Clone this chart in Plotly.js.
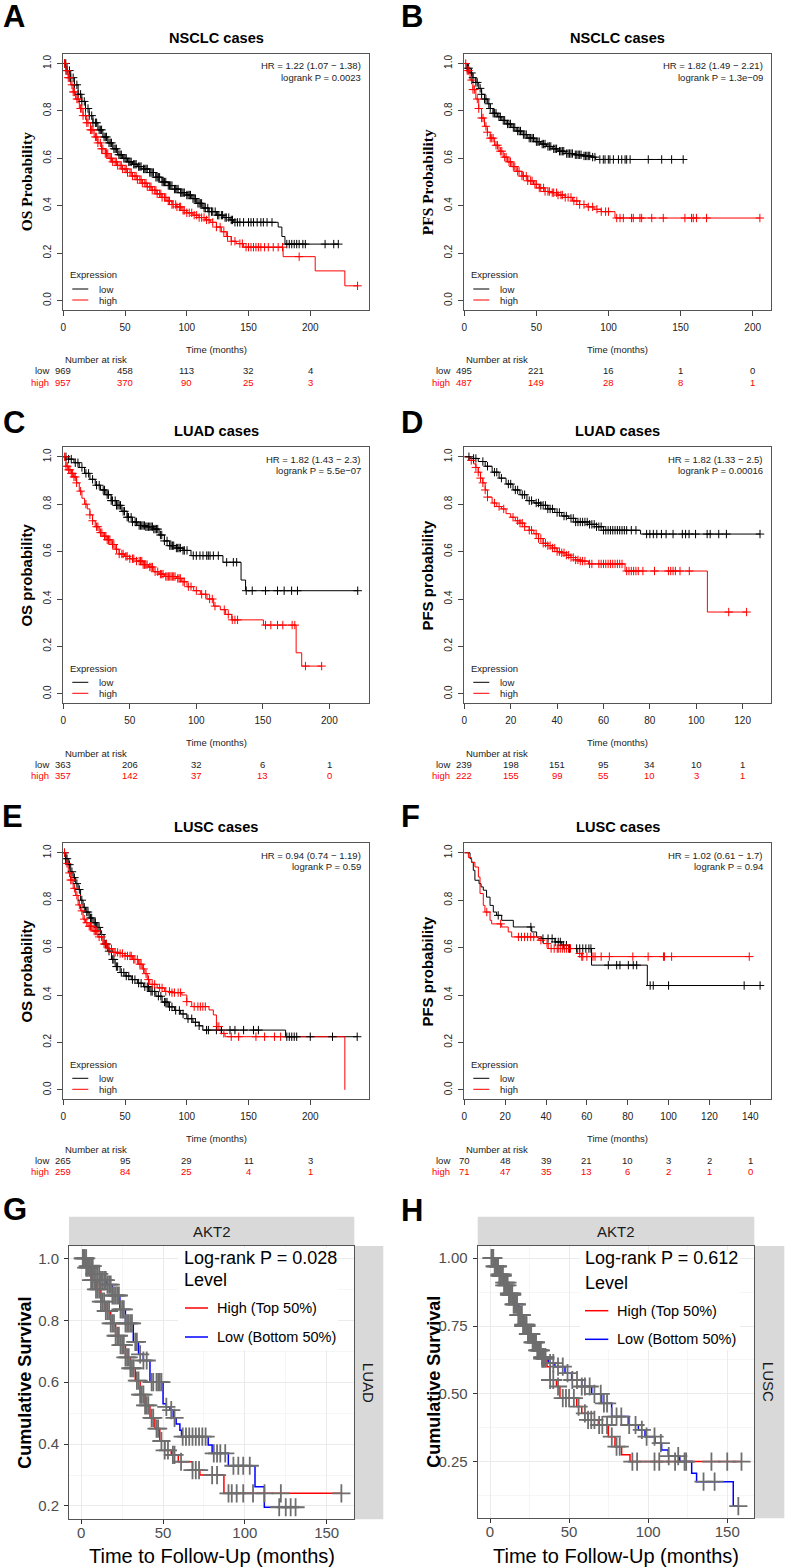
<!DOCTYPE html>
<html>
<head>
<meta charset="utf-8">
<script src="https://cdn.plot.ly/plotly-3.0.1.min.js"></script>
<style>
  html, body { margin: 0; padding: 0; background: #fff; }
  #chart { width: 787px; height: 1568px; }
</style>
</head>
<body>
<div id="chart"></div>
<script>
// ---- data (months / survival probability) ----

// tick labels
const months50 = [0, 50, 100, 150, 200];
const months20D = [0, 20, 40, 60, 80, 100, 120];
const months20F = [0, 20, 40, 60, 80, 100, 120, 140];
const probTicks = [0, 0.2, 0.4, 0.6, 0.8, 1.0];

// A: NSCLC OS
const aLowT = [0, 3, 6, 9, 12, 15, 18, 21, 24, 28, 32, 36, 40, 44, 48, 52, 56, 60, 65, 70, 75, 80, 85, 90, 95, 100, 104, 108, 113, 118, 124, 130, 135, 138, 174, 177, 179.5];
const aLowS = [1.0, 0.97, 0.94, 0.91, 0.87, 0.84, 0.81, 0.78, 0.75, 0.72, 0.69, 0.665, 0.64, 0.615, 0.6, 0.585, 0.575, 0.565, 0.555, 0.54, 0.52, 0.5, 0.485, 0.47, 0.455, 0.445, 0.43, 0.41, 0.39, 0.375, 0.36, 0.35, 0.34, 0.33, 0.31, 0.27, 0.238];
const aLowC = [1, 2, 3, 5, 6, 8, 9, 11, 12, 14, 15, 17, 18, 20, 21, 23, 24, 26, 27, 29, 30, 31, 33, 34, 35, 37, 38, 39, 41, 42, 43, 45, 46, 47, 49, 50, 51, 53, 54, 55, 57, 58, 59, 61, 62, 63, 65, 66, 67, 68, 70, 71, 72, 73, 75, 76, 77, 78, 80, 81, 82, 83, 85, 86, 87, 88, 90, 91, 92, 93, 95, 96, 97, 98, 100, 101, 102, 103, 105, 106, 107, 109, 110, 111, 112, 114, 115, 117, 118, 120, 121, 123, 125, 126, 128, 129, 131, 132, 134, 136, 137, 139, 141, 143, 146, 150, 152, 154, 157, 160, 162, 165, 169, 181, 183, 185, 187, 189, 191, 194, 196, 212, 219, 222.7];
const aHighT = [0, 2, 4, 6, 8, 10, 13, 16, 19, 22, 25, 28, 31, 34, 37, 40, 44, 48, 52, 56, 60, 64, 68, 72, 76, 80, 84, 88, 92, 96, 100, 105, 110, 115, 119, 124, 128, 132, 136, 140, 146, 178, 204, 228];
const aHighS = [1.0, 0.97, 0.94, 0.91, 0.88, 0.85, 0.81, 0.78, 0.75, 0.72, 0.69, 0.665, 0.64, 0.62, 0.6, 0.585, 0.57, 0.555, 0.54, 0.525, 0.51, 0.495, 0.48, 0.465, 0.45, 0.435, 0.42, 0.405, 0.395, 0.38, 0.37, 0.36, 0.35, 0.34, 0.33, 0.31, 0.29, 0.27, 0.25, 0.24, 0.225, 0.185, 0.125, 0.062];
const aHighC = [1, 2, 3, 4, 5, 7, 8, 9, 11, 12, 14, 15, 16, 18, 19, 20, 22, 23, 24, 26, 27, 28, 30, 31, 32, 34, 35, 36, 38, 39, 40, 42, 43, 44, 46, 47, 48, 50, 51, 52, 54, 55, 56, 58, 59, 60, 62, 63, 64, 66, 67, 68, 70, 71, 72, 74, 75, 76, 78, 79, 80, 82, 83, 85, 86, 88, 89, 91, 92, 94, 95, 97, 98, 100, 102, 104, 106, 108, 110, 112, 114, 116, 118, 121, 124, 127, 130, 133, 136, 139, 143, 145, 148, 150, 152, 154, 156, 158, 160, 163, 166, 170, 174, 177.5, 191, 238.3];
const riskTimesA = [0, 50, 100, 150, 200];
const riskLowA = [969, 458, 113, 32, 4];
const riskHighA = [957, 370, 90, 25, 3];

// B: NSCLC PFS
const bLowT = [0, 2, 4, 6, 8, 10, 12, 14, 16, 18, 20, 23, 26, 29, 33, 36, 40, 44, 49, 53, 57, 61, 65, 70, 76, 82, 88, 91];
const bLowS = [1.0, 0.98, 0.96, 0.94, 0.92, 0.895, 0.87, 0.85, 0.83, 0.81, 0.79, 0.775, 0.76, 0.745, 0.73, 0.715, 0.7, 0.685, 0.67, 0.66, 0.65, 0.64, 0.63, 0.62, 0.615, 0.61, 0.605, 0.595];
const bLowC = [2, 3, 5, 6, 8, 9, 11, 12, 14, 15, 17, 18, 20, 21, 22, 24, 25, 27, 28, 30, 31, 32, 34, 35, 37, 38, 39, 41, 42, 43, 45, 46, 47, 48, 50, 51, 52, 54, 55, 56, 58, 59, 60, 62, 63, 64, 66, 67, 68, 69, 71, 72, 73, 74, 75, 77, 78, 79, 80, 81, 83, 84, 85, 86, 87, 89, 90.6, 94, 96.4, 97.6, 99.9, 101, 103.4, 106.9, 109.2, 111.5, 112.6, 115, 127.6, 136.9, 143.8, 151.8];
const bHighT = [0, 2, 4, 6, 8, 10, 12, 14, 16, 18, 21, 24, 27, 30, 33, 36, 40, 44, 48, 52, 56, 60, 65, 70, 75, 80, 85, 90, 95, 104.5];
const bHighS = [1.0, 0.97, 0.93, 0.89, 0.85, 0.81, 0.77, 0.735, 0.71, 0.685, 0.655, 0.63, 0.605, 0.585, 0.565, 0.545, 0.525, 0.505, 0.49, 0.475, 0.46, 0.455, 0.445, 0.435, 0.42, 0.405, 0.395, 0.385, 0.375, 0.348];
const bHighC = [1, 2, 3, 5, 6, 7, 9, 10, 12, 13, 15, 16, 18, 19, 20, 22, 23, 25, 26, 28, 29, 31, 32, 34, 35, 37, 38, 40, 41, 43, 44, 46, 47, 49, 50, 52, 53, 55, 56, 58, 59, 61, 62, 64, 65, 67, 68, 70, 72, 74, 76, 78, 80, 83, 86, 89, 92, 95, 98, 100, 105.7, 108, 110.3, 116, 117.2, 121.8, 123, 130, 138, 153, 157.6, 158.8, 161, 168, 205];
const riskTimesB = [0, 50, 100, 150, 200];
const riskLowB = [495, 221, 16, 1, 0];
const riskHighB = [487, 149, 28, 8, 1];

// C: LUAD OS
const cLowT = [0, 4, 8, 12, 16, 20, 24, 28, 32, 36, 40, 44, 48, 52, 56, 62, 68, 72, 76, 80, 85, 90, 96, 120, 133.6, 137];
const cLowS = [1.0, 0.99, 0.975, 0.955, 0.93, 0.905, 0.88, 0.86, 0.84, 0.815, 0.795, 0.77, 0.745, 0.725, 0.71, 0.705, 0.695, 0.67, 0.645, 0.625, 0.615, 0.605, 0.583, 0.555, 0.48, 0.435];
const cLowC = [2, 4, 6, 9, 11, 14, 17, 19, 22, 25, 27, 30, 31, 33, 34, 36, 37, 39, 40, 41, 42, 43, 45, 46, 48, 49, 51, 52, 54, 55, 57, 58, 59, 60, 61, 62, 63, 64, 65, 66, 67, 68, 69, 70, 71, 73, 74, 76, 78, 80, 81, 82, 83, 85, 86, 87, 88, 90, 91, 93, 97.7, 100, 102.7, 105, 107.8, 109, 110.3, 112.8, 116.5, 122.8, 127.8, 130.3, 137.5, 142, 152, 161, 166, 171.6, 176, 221.3];
const cHighT = [0, 2, 4, 6, 8, 10, 12, 14, 16, 18, 20, 22, 24, 27, 30, 33, 36, 39, 42, 46, 50, 55, 60, 64, 68, 72, 76, 85, 89, 93, 98, 103, 108, 113, 118, 122, 126.6, 150.4, 175, 179.2];
const cHighS = [1.0, 0.96, 0.945, 0.93, 0.915, 0.89, 0.855, 0.825, 0.8, 0.78, 0.755, 0.73, 0.705, 0.68, 0.665, 0.65, 0.63, 0.61, 0.59, 0.58, 0.57, 0.56, 0.545, 0.535, 0.515, 0.505, 0.495, 0.487, 0.473, 0.452, 0.435, 0.42, 0.4, 0.37, 0.355, 0.335, 0.312, 0.29, 0.173, 0.117];
const cHighC = [1, 2, 3, 4, 5, 6, 7, 8, 9, 10, 13, 17, 20, 22, 25, 26, 28, 29, 31, 32, 33, 34, 35, 37, 38, 40, 42, 44, 45, 47, 48, 50, 52, 53, 55, 57, 58, 59, 60, 61, 62, 63, 65, 66, 67, 69, 71, 73, 74, 75, 77, 78, 79, 80, 81, 82, 83, 84, 86, 87, 88, 90, 91, 94, 96, 100, 104, 107, 110, 112, 114, 121, 124, 127, 129, 131, 152, 156, 161, 165, 172, 174, 182, 194.2];
const riskTimesC = [0, 50, 100, 150, 200];
const riskLowC = [363, 206, 32, 6, 1];
const riskHighC = [357, 142, 37, 13, 0];

// D: LUAD PFS
const dLowT = [0, 3, 6, 9, 12, 15, 18, 21, 24, 27, 30, 33, 36, 39, 42, 45, 48, 54, 57, 60, 76];
const dLowS = [1.0, 0.993, 0.98, 0.96, 0.935, 0.91, 0.885, 0.86, 0.84, 0.815, 0.805, 0.795, 0.78, 0.765, 0.75, 0.74, 0.725, 0.715, 0.705, 0.69, 0.674];
const dLowC = [2, 4, 5, 8, 10, 13, 14, 16, 19, 20, 22, 23, 25, 26, 28, 29, 31, 32, 33, 34, 35, 36, 37, 38, 40, 41, 43, 44, 46, 47, 48, 49, 50, 51, 52, 53, 54, 55, 56, 57, 58, 59, 60, 61, 62, 63, 64, 65, 66, 67, 68, 69, 70, 72, 74, 78.6, 80, 81.5, 83, 85, 87, 90, 94, 95.4, 96.9, 99.7, 104.7, 106, 109.7, 113, 127.5];
const dHighT = [0, 2, 4, 5, 6, 7, 8, 9, 10, 12, 14, 16, 18, 20, 22, 24, 26, 28, 30, 32, 34, 36, 38, 40, 42, 44, 46, 48, 50, 53.5, 69.3, 104.8];
const dHighS = [1.0, 0.985, 0.97, 0.955, 0.935, 0.91, 0.89, 0.86, 0.83, 0.805, 0.79, 0.78, 0.76, 0.745, 0.73, 0.72, 0.705, 0.69, 0.675, 0.655, 0.635, 0.625, 0.615, 0.6, 0.595, 0.585, 0.575, 0.565, 0.56, 0.548, 0.518, 0.345];
const dHighC = [3, 5, 6, 7, 8, 9, 10, 13, 15, 17, 21, 23, 24, 25, 26, 28, 29, 31, 32, 33, 34, 35, 36, 37, 38, 39, 40, 41, 42, 43, 44, 45, 46, 47, 48, 49, 50, 51, 52, 54, 55, 58, 59, 60, 61, 62, 63, 64, 65, 66, 67, 68, 70, 71, 72, 73, 74, 75, 77, 82, 88, 89, 90, 91, 93, 97, 114, 121.7];
const riskTimesD = [0, 20, 40, 60, 80, 100, 120];
const riskLowD = [239, 198, 151, 95, 34, 10, 1];
const riskHighD = [222, 155, 99, 55, 10, 3, 1];

// E: LUSC OS
const eLowT = [0, 2, 4, 6, 8, 10, 12, 14, 16, 18, 21, 24, 27, 30, 33, 36, 39, 42, 46, 50, 55, 60, 65, 70, 75, 80, 85, 90, 95, 100, 105, 110, 113, 180];
const eLowS = [1.0, 0.975, 0.95, 0.92, 0.895, 0.87, 0.845, 0.8, 0.77, 0.75, 0.725, 0.705, 0.685, 0.655, 0.615, 0.585, 0.55, 0.52, 0.495, 0.48, 0.465, 0.45, 0.435, 0.415, 0.395, 0.37, 0.35, 0.335, 0.32, 0.3, 0.285, 0.27, 0.252, 0.224];
const eLowC = [1, 2, 3, 5, 7, 9, 11, 13, 15, 17, 19, 20, 22, 23, 25, 26, 28, 29, 31, 34, 35, 37, 40, 41, 43, 44, 47, 49, 51, 53, 56, 58, 61, 63, 66, 68, 69, 71, 72, 74, 77, 79, 82, 83, 84, 86, 88, 91, 94, 97, 101, 104, 107, 110, 116, 117.5, 124, 128, 135, 139, 146, 154, 158, 181, 183, 185, 187, 189, 200, 218, 238];
const eHighT = [0, 2, 4, 6, 8, 10, 12, 14, 16, 18, 20, 24, 28, 32, 36, 40, 45, 50, 56, 61, 64, 66, 68, 70, 76, 82, 88, 96, 100, 104, 118, 121.5, 124, 128, 131, 228];
const eHighS = [1.0, 0.955, 0.915, 0.885, 0.85, 0.82, 0.78, 0.755, 0.72, 0.705, 0.69, 0.67, 0.645, 0.615, 0.595, 0.58, 0.575, 0.565, 0.55, 0.53, 0.51, 0.49, 0.465, 0.445, 0.43, 0.415, 0.41, 0.4, 0.372, 0.351, 0.337, 0.316, 0.267, 0.238, 0.224, 0.0];
const eHighC = [1, 3, 5, 6, 7, 9, 11, 13, 15, 17, 19, 21, 22, 23, 25, 26, 27, 29, 31, 33, 35, 37, 39, 41, 42, 44, 46, 48, 50, 52, 54, 55, 57, 58, 60, 62, 63, 65, 67, 69, 72, 74, 78, 80, 83, 86, 88, 90, 93, 95, 100, 106, 109, 111, 113, 115, 124.5, 126, 130, 136, 142, 156, 163, 171, 176];
const riskTimesE = [0, 50, 100, 150, 200];
const riskLowE = [265, 95, 29, 11, 3];
const riskHighE = [259, 84, 25, 4, 1];

// F: LUSC PFS
const fLowT = [0, 2.8, 3.6, 4.4, 5.2, 7.2, 8.2, 9.3, 10.9, 12.6, 14.2, 15.8, 18.3, 24, 33, 35.4, 37.9, 44.4, 47.7, 51, 62.3, 89.6];
const fLowS = [1.0, 0.975, 0.96, 0.926, 0.884, 0.87, 0.856, 0.842, 0.813, 0.778, 0.75, 0.736, 0.715, 0.687, 0.666, 0.645, 0.638, 0.624, 0.61, 0.596, 0.526, 0.44];
const fLowC = [16.6, 32.6, 38.5, 41, 43, 44.5, 46, 47, 48.5, 50, 51.5, 55, 56.5, 58, 59.5, 61, 62, 70.5, 74.6, 76.2, 80.3, 82.7, 84.4, 91, 92.5, 100, 137, 144.8];
const fHighT = [0, 2, 3.5, 5.2, 6.9, 7.7, 9.3, 10.1, 12.6, 13.4, 18.3, 21.5, 23.2, 36.2, 38.7, 41.1, 55.5, 57.5];
const fHighS = [1.0, 0.98, 0.96, 0.94, 0.898, 0.828, 0.778, 0.75, 0.715, 0.7, 0.687, 0.666, 0.645, 0.631, 0.617, 0.596, 0.575, 0.562];
const fHighC = [11, 17.8, 26.5, 28, 29.5, 31, 32.5, 34, 37.5, 40.5, 42.5, 44, 45.5, 46, 47, 48, 49, 50, 51, 52, 56.5, 57.5, 58, 60, 63, 64, 67, 71, 82.5, 90, 97.5, 98, 101.5, 139.5];
const riskTimesF = [0, 20, 40, 60, 80, 100, 120, 140];
const riskLowF = [70, 48, 39, 21, 10, 3, 2, 1];
const riskHighF = [71, 47, 35, 13, 6, 2, 1, 0];

// G: AKT2 LUAD
const gHighT = [0, 3, 6, 9, 12, 15, 18, 21, 24, 27, 30, 33, 36, 39, 42, 45, 48, 51, 55, 59.3, 68, 72.5, 87.2];
const gHighS = [1.0, 0.97, 0.93, 0.9, 0.86, 0.83, 0.79, 0.75, 0.72, 0.68, 0.645, 0.605, 0.56, 0.525, 0.485, 0.45, 0.41, 0.38, 0.365, 0.343, 0.316, 0.3, 0.241];
const gHighC = [1, 2, 3, 4, 5, 6, 7, 8, 9, 10, 11, 12, 13, 14, 15, 16, 17, 18, 19, 20, 21, 22, 23, 24, 25, 26, 27, 28, 29, 30, 31, 32, 34, 35, 36, 37, 38, 39, 40, 41, 43, 44, 46, 47, 49, 51, 53, 56, 57, 61, 68, 70, 72, 80, 83, 90, 92, 95, 99, 105, 112, 122, 159];
const gLowT = [0, 3.3, 8, 12, 15.5, 19, 23.6, 27, 31.8, 35, 37.9, 42, 50, 52, 54.2, 56.2, 58, 60.3, 61.3, 77.6, 80, 89.9, 106.2, 111.9];
const gLowS = [1.0, 0.975, 0.95, 0.93, 0.915, 0.88, 0.835, 0.79, 0.73, 0.69, 0.67, 0.6, 0.53, 0.52, 0.51, 0.485, 0.465, 0.445, 0.424, 0.397, 0.37, 0.33, 0.262, 0.196];
const gLowC = [1, 2, 3, 4, 5, 6, 7, 8, 9, 10, 11, 12, 13, 14, 15, 16, 17, 18, 19, 20, 21, 22, 23, 24, 25, 26, 27, 28, 29, 30, 31, 33, 34, 36, 38, 40, 43, 44, 46, 47, 48, 49, 52, 55, 57, 62, 64, 66, 68, 70, 72, 74, 76, 81, 83, 85, 88, 93, 96, 99, 103, 121, 125, 128, 131];

// H: AKT2 LUSC
const hHighT = [0, 3, 6, 9, 12, 15, 18, 21, 24, 27, 30, 33, 36, 37.9, 42, 44.2, 54.8, 58, 62, 68.5, 74.8, 79, 83.2, 88.5];
const hHighS = [1.0, 0.97, 0.94, 0.91, 0.87, 0.83, 0.79, 0.75, 0.72, 0.69, 0.66, 0.63, 0.6, 0.551, 0.527, 0.484, 0.453, 0.428, 0.404, 0.385, 0.342, 0.305, 0.275, 0.25];
const hHighC = [1, 2, 3, 4, 5, 6, 7, 8, 9, 10, 11, 12, 13, 14, 15, 16, 17, 18, 19, 20, 21, 22, 23, 24, 25, 26, 27, 28, 29, 30, 31, 32, 33, 34, 35, 38, 40, 43, 46, 48, 50, 53, 56, 60, 62, 64, 66, 69, 71, 74, 77, 80, 82, 90, 93, 104, 107, 117, 124, 140, 150, 159];
const hLowT = [0, 3, 6, 9, 12, 15, 18, 21, 24, 27, 30, 33, 36.9, 41, 47.4, 51.6, 58, 64.3, 70.6, 76.9, 87.4, 93.8, 98, 104.3, 108.5, 112.7, 120, 127.5, 130.6, 153.8];
const hLowS = [1.0, 0.97, 0.935, 0.9, 0.865, 0.83, 0.79, 0.755, 0.72, 0.69, 0.66, 0.635, 0.613, 0.6, 0.576, 0.551, 0.527, 0.5, 0.465, 0.416, 0.385, 0.367, 0.342, 0.318, 0.293, 0.27, 0.25, 0.207, 0.176, 0.086];
const hLowC = [1, 2, 3, 4, 5, 6, 7, 8, 9, 10, 11, 12, 13, 14, 15, 16, 17, 18, 19, 20, 21, 22, 23, 24, 25, 26, 27, 28, 29, 30, 31, 32, 33, 34, 35, 38, 40, 43, 46, 49, 52, 55, 58, 60, 63, 66, 70, 72, 74, 77, 80, 83, 88, 92, 96, 99, 104, 108, 113, 119, 123, 135, 142, 157];

// ---- layout helpers ----
const W = 787, H = 1568;
const X = px => px / W;
const Y = py => 1 - py / H;
const SANS = 'Liberation Sans, Arial, Helvetica, sans-serif';
const SERIF = 'Liberation Serif, Times New Roman, serif';

const traces = [];
const shapes = [];
const annotations = [];
const layout = {
    width: W, height: H,
    margin: { l: 0, r: 0, t: 0, b: 0 },
    paper_bgcolor: '#fff', plot_bgcolor: '#fff',
    showlegend: false,
    shapes: shapes,
    annotations: annotations
};

function sfx(n) { return n === 1 ? '' : String(n); }

// survival value of a step curve at time t
function stepAt(ts, ss, t) {
    let v = ss[0];
    for (let i = 0; i < ts.length; i++) if (ts[i] <= t) v = ss[i];
    return v;
}

function addCurve(n, ts, ss, cs, color, width) {
    const end = Math.max(ts[ts.length - 1], ...cs);
    const x = ts.slice(), y = ss.slice();
    if (end > x[x.length - 1]) { x.push(end); y.push(ss[ss.length - 1]); }
    traces.push({
        x, y, type: 'scatter', mode: 'lines',
        line: { shape: 'hv', color: color, width: width },
        xaxis: 'x' + sfx(n), yaxis: 'y' + sfx(n), hoverinfo: 'skip'
    });
}

function addCensor(n, ts, ss, cs, color, size, width) {
    traces.push({
        x: cs, y: cs.map(t => stepAt(ts, ss, t)),
        type: 'scatter', mode: 'markers',
        marker: { symbol: 'cross-thin', size: size, color: color, line: { color: color, width: width } },
        xaxis: 'x' + sfx(n), yaxis: 'y' + sfx(n), hoverinfo: 'skip'
    });
}

function note(text, px, py, opts) {
    annotations.push(Object.assign({
        text: text, x: X(px), y: Y(py), xref: 'paper', yref: 'paper',
        showarrow: false, xanchor: 'center', yanchor: 'middle',
        font: { family: SANS, size: 10, color: '#222' }
    }, opts || {}));
}

function panelLetter(letter, px, py) {
    note(letter, px, py, { xanchor: 'left', font: { family: SANS, size: 31, color: '#000', weight: 'bold' } });
}

// ---- R style panels (A-F) ----
function rPanel(p) {
    const n = p.n, s = sfx(n);
    const [l, t, r, b] = p.box;
    const cx = (l + r) / 2;
    layout['xaxis' + s] = {
        domain: [X(l), X(r)], range: p.xr, anchor: 'y' + s,
        tickmode: 'array', tickvals: p.xt,
        ticks: 'outside', ticklen: 5, tickcolor: '#444',
        showline: true, mirror: true, linecolor: '#555', linewidth: 1,
        showgrid: false, zeroline: false, automargin: false, fixedrange: true,
        ticklabelstandoff: 3,
        tickfont: { family: SANS, size: 10, color: '#222' }
    };
    layout['yaxis' + s] = {
        domain: [Y(b), Y(t)], range: [-0.04, 1.04], anchor: 'x' + s,
        tickmode: 'array', tickvals: probTicks, tickformat: '.1f', tickangle: -90,
        ticks: 'outside', ticklen: 5, tickcolor: '#444',
        showline: true, mirror: true, linecolor: '#555', linewidth: 1,
        showgrid: false, zeroline: false, automargin: false, fixedrange: true,
        ticklabelstandoff: 2,
        tickfont: { family: SANS, size: 10, color: '#222' }
    };

    addCurve(n, p.lowT, p.lowS, p.lowC, '#000', 1);
    addCurve(n, p.highT, p.highS, p.highC, '#ff0000', 1);
    addCensor(n, p.lowT, p.lowS, p.lowC, '#000', 6, 1);
    addCensor(n, p.highT, p.highS, p.highC, '#ff0000', 6, 1);

    panelLetter(p.letter, p.letterXY[0], p.letterXY[1]);
    note(p.title, cx, t - 16, { font: { family: SANS, size: 14.6, color: '#000', weight: 'bold' } });
    note(p.hr, r - 6, t + 12, { xanchor: 'right', font: { family: SANS, size: 9.5, color: '#222' } });
    note(p.pval, r - 6, t + 23, { xanchor: 'right', font: { family: SANS, size: 9.5, color: '#222' } });
    note(p.ylab, l - 37, (t + b) / 2, {
        textangle: -90,
        font: p.serif ? { family: SERIF, size: 15.5, color: '#000', weight: 'bold' }
                      : { family: SANS, size: 15, color: '#000', weight: 'bold' }
    });
    note('Time (months)', cx, b + 39, { font: { family: SANS, size: 9.5, color: '#222' } });

    // legend
    note('Expression', l + 5, b - 35, { xanchor: 'left', font: { family: SANS, size: 9.5, color: '#222' } });
    note('low', l + 34, b - 21, { xanchor: 'left', font: { family: SANS, size: 9.5, color: '#222' } });
    note('high', l + 34, b - 10, { xanchor: 'left', font: { family: SANS, size: 9.5, color: '#222' } });
    shapes.push({ type: 'line', xref: 'paper', yref: 'paper', x0: X(l + 9), x1: X(l + 25), y0: Y(b - 21), y1: Y(b - 21), line: { color: '#000', width: 1 } });
    shapes.push({ type: 'line', xref: 'paper', yref: 'paper', x0: X(l + 9), x1: X(l + 25), y0: Y(b - 10), y1: Y(b - 10), line: { color: '#ff0000', width: 1 } });

    // number at risk table
    note('Number at risk', l, b + 50, { xanchor: 'left', font: { family: SANS, size: 9.5, color: '#222' } });
    note('low', l - 12, b + 61, { xanchor: 'right', font: { family: SANS, size: 9.5, color: '#222' } });
    note('high', l - 12, b + 72, { xanchor: 'right', font: { family: SANS, size: 9.5, color: '#ff0000' } });
    p.riskT.forEach((tm, i) => {
        annotations.push({ text: String(p.riskLow[i]), x: tm, xref: 'x' + s, y: Y(b + 61), yref: 'paper',
            showarrow: false, xanchor: 'center', yanchor: 'middle', font: { family: SANS, size: 9.5, color: '#222' } });
        annotations.push({ text: String(p.riskHigh[i]), x: tm, xref: 'x' + s, y: Y(b + 72), yref: 'paper',
            showarrow: false, xanchor: 'center', yanchor: 'middle', font: { family: SANS, size: 9.5, color: '#ff0000' } });
    });
}

// ---- ggplot style panels (G, H) ----
function ggPanel(p) {
    const n = p.n, s = sfx(n);
    const [l, t, r, b] = p.box;
    const cx = (l + r) / 2;
    const grid = { showgrid: true, gridcolor: '#ebebeb', gridwidth: 1 };
    layout['xaxis' + s] = Object.assign({
        domain: [X(l), X(r)], range: p.xr, anchor: 'y' + s,
        tick0: 0, dtick: 50,
        minor: { tick0: 0, dtick: 25, showgrid: true, gridcolor: '#f4f4f4', gridwidth: 0.8 },
        ticks: 'outside', ticklen: 4, tickcolor: '#333',
        showline: true, mirror: true, linecolor: '#555', linewidth: 1,
        zeroline: false, automargin: false, fixedrange: true,
        ticklabelstandoff: -4,
        tickfont: { family: SANS, size: 15, color: '#4d4d4d' }
    }, grid);
    layout['yaxis' + s] = Object.assign({
        domain: [Y(b), Y(t)], range: p.yr, anchor: 'x' + s,
        tick0: p.ytick0, dtick: p.ydtick, tickformat: p.yfmt,
        minor: { tick0: 0, dtick: p.ydtick / 2, showgrid: true, gridcolor: '#f4f4f4', gridwidth: 0.8 },
        ticks: 'outside', ticklen: 4, tickcolor: '#333',
        showline: true, mirror: true, linecolor: '#555', linewidth: 1,
        zeroline: false, automargin: false, fixedrange: true,
        ticklabelstandoff: 2,
        tickfont: { family: SANS, size: 15, color: '#4d4d4d' }
    }, grid);

    addCurve(n, p.highT, p.highS, p.highC, '#ff0000', 1.5);
    addCurve(n, p.lowT, p.lowS, p.lowC, '#0000ff', 1.5);
    addCensor(n, p.highT, p.highS, p.highC, '#6e6e6e', 13, 1.8);
    addCensor(n, p.lowT, p.lowS, p.lowC, '#6e6e6e', 13, 1.8);

    // strips
    shapes.push({ type: 'rect', xref: 'paper', yref: 'paper', x0: X(l), x1: X(r), y0: Y(t - 1), y1: Y(t - 29.3),
        fillcolor: '#d9d9d9', line: { width: 0 }, layer: 'below' });
    shapes.push({ type: 'rect', xref: 'paper', yref: 'paper', x0: X(r), x1: X(p.stripR), y0: Y(b), y1: Y(t),
        fillcolor: '#d9d9d9', line: { width: 0 }, layer: 'below' });
    note(p.gene, cx, t - 15, { font: { family: SANS, size: 15, color: '#1a1a1a' } });
    note(p.side, (r + p.stripR) / 2, (t + b) / 2, { textangle: 90, font: { family: SANS, size: 15, color: '#1a1a1a' } });

    // legend box
    const w = r - l, h = b - t;
    shapes.push({ type: 'rect', xref: 'x' + s + ' domain', yref: 'y' + s + ' domain',
        x0: p.lg.box[0] / w, x1: p.lg.box[1] / w, y0: 1 - p.lg.box[3] / h, y1: 1 - p.lg.box[2] / h,
        fillcolor: '#fff', line: { width: 0 }, layer: 'above' });
    note(p.pText, l + p.lg.tx, t + p.lg.py, { xanchor: 'left', font: { family: SANS, size: 18, color: '#000' } });
    note('Level', l + p.lg.tx, t + p.lg.ly, { xanchor: 'left', font: { family: SANS, size: 18, color: '#000' } });
    shapes.push({ type: 'line', xref: 'paper', yref: 'paper', x0: X(l + p.lg.lx[0]), x1: X(l + p.lg.lx[1]),
        y0: Y(t + p.lg.ry), y1: Y(t + p.lg.ry), line: { color: '#ff0000', width: 1.5 } });
    shapes.push({ type: 'line', xref: 'paper', yref: 'paper', x0: X(l + p.lg.lx[0]), x1: X(l + p.lg.lx[1]),
        y0: Y(t + p.lg.by), y1: Y(t + p.lg.by), line: { color: '#0000ff', width: 1.5 } });
    note('High (Top 50%)', l + p.lg.kx, t + p.lg.ry, { xanchor: 'left', font: { family: SANS, size: 14.5, color: '#000' } });
    note('Low (Bottom 50%)', l + p.lg.kx, t + p.lg.by, { xanchor: 'left', font: { family: SANS, size: 14.5, color: '#000' } });

    // axis titles
    note('Cumulative Survival', l - 44, (t + b) / 2, { textangle: -90, font: { family: SANS, size: 18, color: '#000', weight: 'bold' } });
    note('Time to Follow-Up (months)', cx, 1556, { font: { family: SANS, size: 20, color: '#000' } });

    panelLetter(p.letter, p.letterXY[0], p.letterXY[1]);
}

rPanel({ n: 1, letter: 'A', letterXY: [1, 16], title: 'NSCLC cases', ylab: 'OS Probability', serif: true,
    box: [63.3, 54, 369.3, 310], xr: [0, 247.8], xt: months50,
    hr: 'HR = 1.22 (1.07 − 1.38)', pval: 'logrank P = 0.0023',
    lowT: aLowT, lowS: aLowS, lowC: aLowC, highT: aHighT, highS: aHighS, highC: aHighC,
    riskT: riskTimesA, riskLow: riskLowA, riskHigh: riskHighA });
rPanel({ n: 2, letter: 'B', letterXY: [399, 16], title: 'NSCLC cases', ylab: 'PFS Probability', serif: true,
    box: [464.3, 54, 770.7, 310], xr: [0, 212.5], xt: months50,
    hr: 'HR = 1.82 (1.49 − 2.21)', pval: 'logrank P = 1.3e−09',
    lowT: bLowT, lowS: bLowS, lowC: bLowC, highT: bHighT, highS: bHighS, highC: bHighC,
    riskT: riskTimesB, riskLow: riskLowB, riskHigh: riskHighB });
rPanel({ n: 3, letter: 'C', letterXY: [1, 423], title: 'LUAD cases', ylab: 'OS probability', serif: false,
    box: [63.3, 447.3, 369.3, 703.3], xr: [0, 230], xt: months50,
    hr: 'HR = 1.82 (1.43 − 2.3)', pval: 'logrank P = 5.5e−07',
    lowT: cLowT, lowS: cLowS, lowC: cLowC, highT: cHighT, highS: cHighS, highC: cHighC,
    riskT: riskTimesC, riskLow: riskLowC, riskHigh: riskHighC });
rPanel({ n: 4, letter: 'D', letterXY: [399, 423], title: 'LUAD cases', ylab: 'PFS probability', serif: false,
    box: [464.3, 447.3, 770.7, 703.3], xr: [0, 132.1], xt: months20D,
    hr: 'HR = 1.82 (1.33 − 2.5)', pval: 'logrank P = 0.00016',
    lowT: dLowT, lowS: dLowS, lowC: dLowC, highT: dHighT, highS: dHighS, highC: dHighC,
    riskT: riskTimesD, riskLow: riskLowD, riskHigh: riskHighD });
rPanel({ n: 5, letter: 'E', letterXY: [0, 816], title: 'LUSC cases', ylab: 'OS probability', serif: false,
    box: [63.3, 843.3, 369.3, 1099.3], xr: [0, 247.8], xt: months50,
    hr: 'HR = 0.94 (0.74 − 1.19)', pval: 'logrank P = 0.59',
    lowT: eLowT, lowS: eLowS, lowC: eLowC, highT: eHighT, highS: eHighS, highC: eHighC,
    riskT: riskTimesE, riskLow: riskLowE, riskHigh: riskHighE });
rPanel({ n: 6, letter: 'F', letterXY: [399, 816], title: 'LUSC cases', ylab: 'PFS probability', serif: false,
    box: [464.3, 843.3, 770.7, 1099.3], xr: [0, 150], xt: months20F,
    hr: 'HR = 1.02 (0.61 − 1.7)', pval: 'logrank P = 0.94',
    lowT: fLowT, lowS: fLowS, lowC: fLowC, highT: fHighT, highS: fHighS, highC: fHighC,
    riskT: riskTimesF, riskLow: riskLowF, riskHigh: riskHighF });

ggPanel({ n: 7, letter: 'G', letterXY: [1, 1209], gene: 'AKT2', side: 'LUAD', pText: 'Log-rank P = 0.028',
    box: [69, 1246, 354.3, 1519.3], stripR: 383.3, xr: [-7.5, 166.9], yr: [0.157, 1.04],
    ytick0: 0, ydtick: 0.2, yfmt: '.1f',
    lg: { box: [109, 269, 2, 104], tx: 113.3, py: 12, ly: 34, lx: [116, 139], kx: 146, ry: 62, by: 91 },
    highT: gHighT, highS: gHighS, highC: gHighC, lowT: gLowT, lowS: gLowS, lowC: gLowC });
ggPanel({ n: 8, letter: 'H', letterXY: [399, 1210], gene: 'AKT2', side: 'LUSC', pText: 'Log-rank P = 0.612',
    box: [477.7, 1246, 754.3, 1518.3], stripR: 784.3, xr: [-7.8, 167.1], yr: [0.041, 1.045],
    ytick0: 0.25, ydtick: 0.25, yfmt: '.2f',
    lg: { box: [102, 262, 4, 104], tx: 105, py: 12.3, ly: 36.7, lx: [107.3, 130.6], kx: 137.3, ry: 64.7, by: 93.3 },
    highT: hHighT, highS: hHighS, highC: hHighC, lowT: hLowT, lowS: hLowS, lowC: hLowC });

Plotly.newPlot('chart', traces, layout, { displayModeBar: false, staticPlot: true });
</script>
</body>
</html>
